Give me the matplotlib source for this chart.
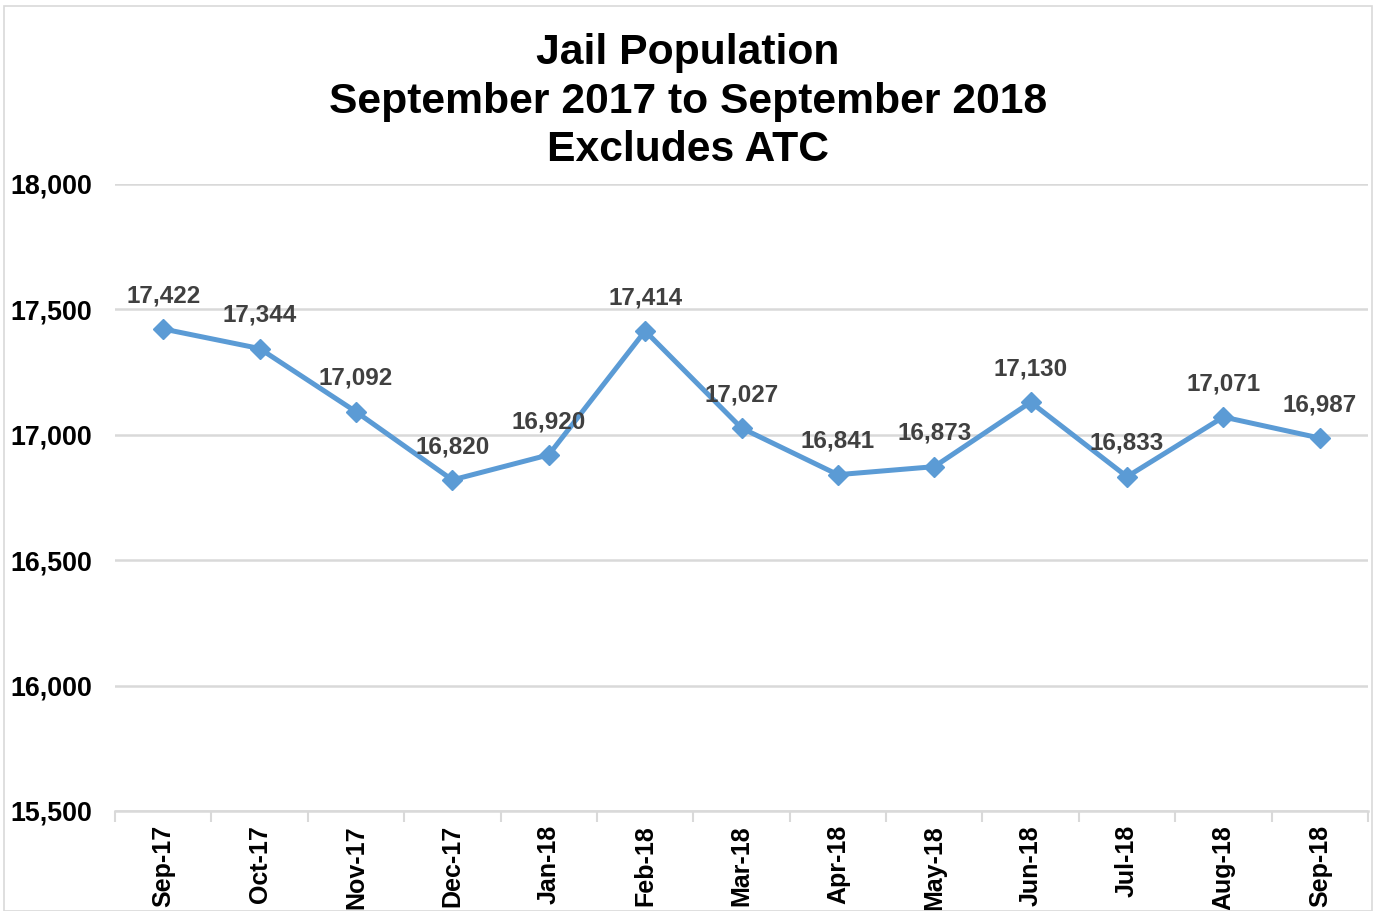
import matplotlib
matplotlib.use("Agg")
import matplotlib.pyplot as plt
from matplotlib.patches import Rectangle
import numpy as np

months = ["Sep-17", "Oct-17", "Nov-17", "Dec-17", "Jan-18", "Feb-18", "Mar-18",
          "Apr-18", "May-18", "Jun-18", "Jul-18", "Aug-18", "Sep-18"]
population = [17422, 17344, 17092, 16820, 16920, 17414, 17027,
              16841, 16873, 17130, 16833, 17071, 16987]
yticks = [15500, 16000, 16500, 17000, 17500, 18000]

plt.rcParams['font.family'] = ['Liberation Sans', 'DejaVu Sans']

fig = plt.figure(figsize=(13.76, 9.11), dpi=100)
ax = fig.add_axes([115/1376, 1-811/911, (1368-115)/1376, (811-184)/911])

x = np.arange(len(months))
ax.plot(x, population, color="#5B9BD5", linewidth=3.6, marker="D",
        markersize=10, zorder=3, solid_joinstyle="round")

for xi, v in zip(x, population):
    ax.annotate(f"{v:,}", (xi, v), xytext=(0, 24), textcoords="offset points",
                ha="center", va="center", fontsize=17.5, fontweight="bold",
                color="#404040", zorder=4)

ax.set_xlim(-0.5, len(months) - 0.5)
ax.set_ylim(15500, 18000)
ax.set_yticks(yticks)
ax.set_yticklabels([f"{t:,}" for t in yticks], fontsize=19.3, fontweight="bold")
ax.set_xticks(x)
ax.set_xticklabels(months, rotation=90, fontsize=18, fontweight="bold")
ax.set_xticks(np.arange(-0.5, len(months), 1.0), minor=True)
ax.tick_params(axis="x", which="major", length=0, pad=10)
ax.tick_params(axis="x", which="minor", length=8, width=1.5, color="#D9D9D9")
ax.tick_params(axis="y", length=0, pad=16.5)

ax.grid(axis="y", color="#D9D9D9", linewidth=1.8, zorder=0)
for s in ["top", "right", "left"]:
    ax.spines[s].set_visible(False)
ax.spines["bottom"].set_color("#D9D9D9")
ax.spines["bottom"].set_linewidth(1.8)
ax.set_axisbelow(True)

fig.text(0.5, 1-101.5/911, "Jail Population\nSeptember 2017 to September 2018\nExcludes ATC",
         ha="center", va="center", fontsize=30.7, fontweight="bold", linespacing=1.26)

fig.patches.append(Rectangle((4/1376, 0), 1-8/1376, 1-6/911, transform=fig.transFigure,
                             fill=False, edgecolor="#D9D9D9", linewidth=1.2))

fig.savefig("out.png", dpi=100)
